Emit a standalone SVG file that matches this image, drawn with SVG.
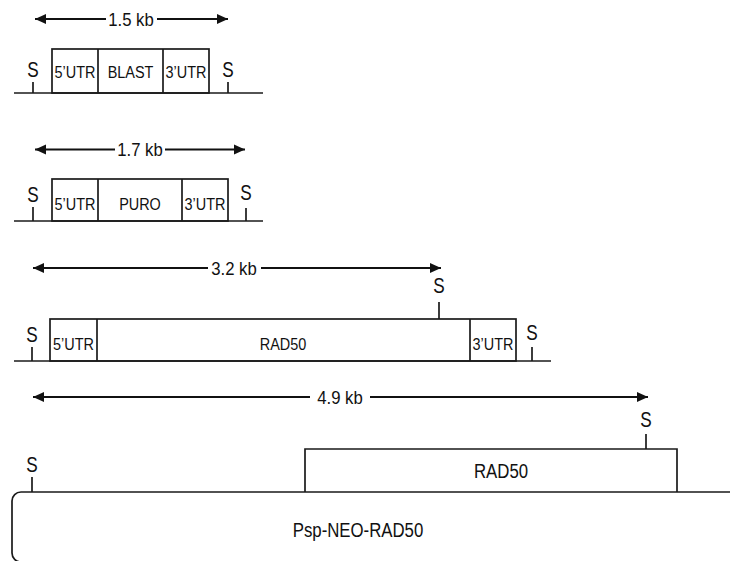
<svg xmlns="http://www.w3.org/2000/svg" width="730" height="561" viewBox="0 0 730 561">
<defs>
<marker id="ah" markerUnits="userSpaceOnUse" markerWidth="12" markerHeight="12" refX="11" refY="6" orient="auto-start-reverse" viewBox="0 0 12 12">
<path d="M0,1 L11,6 L0,11 Z" fill="#111"/>
</marker>
<style>
.ln{stroke:#1a1a1a;stroke-width:1.7;fill:none}
.ar{stroke:#111;stroke-width:2;fill:none}
text{font-family:"Liberation Sans",Arial,sans-serif;fill:#111;text-anchor:middle}
.lb{font-size:17px}
.s{font-size:22px}
.kb{font-size:18px}
.big{font-size:21px}
</style>
</defs>
<rect width="730" height="561" fill="#fff"/>

<g id="connectors">
<line class="ar" x1="106" y1="19" x2="35" y2="19" marker-end="url(#ah)"/>
<line class="ar" x1="157" y1="19" x2="228" y2="19" marker-end="url(#ah)"/>
<line class="ar" x1="115" y1="149.5" x2="35" y2="149.5" marker-end="url(#ah)"/>
<line class="ar" x1="165" y1="149.5" x2="245" y2="149.5" marker-end="url(#ah)"/>
<line class="ar" x1="208" y1="268" x2="33" y2="268" marker-end="url(#ah)"/>
<line class="ar" x1="261" y1="268" x2="441" y2="268" marker-end="url(#ah)"/>
<line class="ar" x1="310" y1="397" x2="33" y2="397" marker-end="url(#ah)"/>
<line class="ar" x1="370" y1="397" x2="648" y2="397" marker-end="url(#ah)"/>
</g>

<g id="dim-labels">
<text class="kb" transform="translate(131,26) scale(0.93,1)">1.5 kb</text>
<text class="kb" transform="translate(140,156) scale(0.93,1)">1.7 kb</text>
<text class="kb" transform="translate(234,275) scale(0.93,1)">3.2 kb</text>
<text class="kb" transform="translate(340,404) scale(0.93,1)">4.9 kb</text>
</g>

<g id="blast-construct">
<line class="ln" x1="14" y1="93" x2="263" y2="93"/>
<rect class="ln" x="52" y="49" width="157" height="44"/>
<line class="ln" x1="98" y1="49" x2="98" y2="93"/>
<line class="ln" x1="163" y1="49" x2="163" y2="93"/>
<text class="lb" transform="translate(75,78) scale(0.85,1)">5’UTR</text>
<text class="lb" transform="translate(130.5,78) scale(0.85,1)">BLAST</text>
<text class="lb" transform="translate(186,78) scale(0.85,1)">3’UTR</text>
<line class="ln" x1="33" y1="82" x2="33" y2="93"/>
<text class="s" transform="translate(33,77) scale(0.78,1)">S</text>
<line class="ln" x1="228" y1="82" x2="228" y2="93"/>
<text class="s" transform="translate(228,77) scale(0.78,1)">S</text>
</g>

<g id="puro-construct">
<line class="ln" x1="14" y1="221" x2="263" y2="221"/>
<rect class="ln" x="52" y="179" width="176" height="42"/>
<line class="ln" x1="98" y1="179" x2="98" y2="221"/>
<line class="ln" x1="182" y1="179" x2="182" y2="221"/>
<text class="lb" transform="translate(75,210) scale(0.85,1)">5’UTR</text>
<text class="lb" transform="translate(140,210) scale(0.85,1)">PURO</text>
<text class="lb" transform="translate(205,210) scale(0.85,1)">3’UTR</text>
<line class="ln" x1="33" y1="207" x2="33" y2="221"/>
<text class="s" transform="translate(33,202) scale(0.78,1)">S</text>
<line class="ln" x1="246" y1="208" x2="246" y2="221"/>
<text class="s" transform="translate(246,200) scale(0.78,1)">S</text>
</g>

<g id="rad50-construct">
<line class="ln" x1="14" y1="361" x2="551" y2="361"/>
<rect class="ln" x="50" y="319" width="466" height="42"/>
<line class="ln" x1="97" y1="319" x2="97" y2="361"/>
<line class="ln" x1="470" y1="319" x2="470" y2="361"/>
<text class="lb" transform="translate(73.5,350) scale(0.85,1)">5’UTR</text>
<text class="lb" transform="translate(283,350) scale(0.85,1)">RAD50</text>
<text class="lb" transform="translate(493,350) scale(0.85,1)">3’UTR</text>
<line class="ln" x1="32" y1="347" x2="32" y2="361"/>
<text class="s" transform="translate(32,342) scale(0.78,1)">S</text>
<line class="ln" x1="439" y1="302" x2="439" y2="319"/>
<text class="s" transform="translate(439,293) scale(0.78,1)">S</text>
<line class="ln" x1="532" y1="347" x2="532" y2="361"/>
<text class="s" transform="translate(532,340) scale(0.78,1)">S</text>
</g>

<g id="psp-neo-rad50">
<path class="ln" d="M731,492 H21 A9,9 0 0 0 12,501 V553 A9,9 0 0 0 21,562 H731"/>
<path class="ln" d="M305,492 V449 H677 V492"/>
<text class="big" transform="translate(501,478) scale(0.8,1)">RAD50</text>
<text class="big" transform="translate(358,537) scale(0.8,1)">Psp-NEO-RAD50</text>
<line class="ln" x1="32" y1="477" x2="32" y2="492"/>
<text class="s" transform="translate(32,472) scale(0.78,1)">S</text>
<line class="ln" x1="646" y1="434" x2="646" y2="449"/>
<text class="s" transform="translate(646,427) scale(0.78,1)">S</text>
</g>
</svg>
